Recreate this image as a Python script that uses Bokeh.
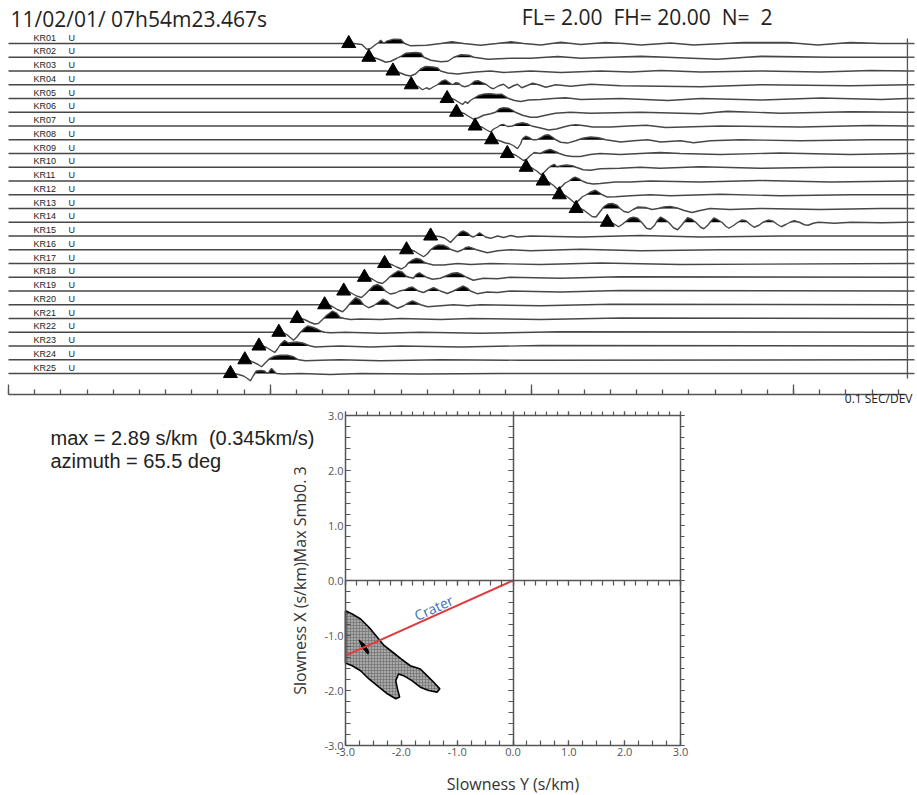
import numpy as np
from bokeh.plotting import figure
from bokeh.models import (Range1d, LinearAxis, SingleIntervalTicker,
                          PrintfTickFormatter, CustomJSTickFormatter, Label)
from bokeh.core.properties import value
from bokeh.embed import file_html
from bokeh.resources import INLINE

# ---------------------------------------------------------------- data
STATIONS = ["KR01", "KR02", "KR03", "KR04", "KR05", "KR06", "KR07", "KR08",
            "KR09", "KR10", "KR11", "KR12", "KR13", "KR14", "KR15", "KR16",
            "KR17", "KR18", "KR19", "KR20", "KR21", "KR22", "KR23", "KR24",
            "KR25"]
COMPONENT = "U"
# first-arrival picks (s after record start)
PICK_S = [1.300, 1.377, 1.469, 1.539, 1.676, 1.712, 1.783, 1.846, 1.906,
          1.978, 2.043, 2.105, 2.169, 2.288, 1.613, 1.521, 1.437, 1.360,
          1.281, 1.208, 1.103, 1.033, 0.957, 0.903, 0.848]
RECORD_END_S = 3.435
AXIS_END_S = 3.428
TIME_DIV_S = 0.1

# waveform key points: (ms after pick, amplitude in counts; + = up)
KR01_WAVE = [(19, 0), (50, -1), (69, -5.7), (84, -5), (103, -1), (115, 1), (122, 3.3), (134, 0.3),
             (145, 2.3), (172, 4.3), (199, 4), (214, 0), (237, -2.3), (298, -1.7), (352, 0),
             (394, 1.7), (439, 0), (504, -1.7), (565, 0), (619, 1.7), (669, 0), (734, -1.5),
             (810, 1.3), (886, -1), (982, 1), (1051, 0), (1116, -1.5), (1230, 0.5), (1318, -1.5),
             (1509, 1), (1677, 1), (1792, -1.5), (1918, 1), (2033, 0)]
KR02_WAVE = [(15, 0), (38, -2), (65, -5), (84, -4), (107, -1), (122, 1), (141, 4), (180, 4.7),
             (199, 4), (210, 0), (237, -3), (275, -4.5), (302, -4), (325, 0), (352, 2.5), (382, 2),
             (401, 0), (455, -2), (543, -1), (619, -1), (722, 0.7), (810, -1), (1039, 1),
             (1333, -2), (1498, 1), (1765, 0)]
KR03_WAVE = [(15, 0), (29, -2), (48, -4), (67, -5), (86, -3), (98, 0), (106, 2), (125, 4.5),
             (152, 4), (171, 3), (182, 0), (209, -2), (247, -3), (278, -2), (316, -1), (373, 0),
             (424, -1.5), (526, 0), (642, -1.5), (794, 0), (909, -1), (1023, 0.5), (1176, -1),
             (1405, 0), (1634, -1), (1826, 0.5)]
KR04_WAVE = [(13, 0), (28, -2), (43, -5), (58, -3), (70, -4.5), (85, -2), (100, 0), (116, 3.5),
             (131, 4.8), (146, 2), (158, 0), (169, 2), (181, 1.5), (192, -1), (204, -2), (219, -1),
             (230, 1), (242, 3.5), (257, 4), (272, 2), (288, 0), (303, -3), (314, -4), (334, -1),
             (353, 0.5), (372, -3.5), (391, -1), (406, 0.5), (422, -3), (441, -1), (464, 1.5),
             (487, 0), (514, -2.5), (552, 0), (610, -1.5), (686, 0.5), (800, -1), (1106, -2),
             (1336, 0), (1679, -1)]
KR05_WAVE = [(13, 0), (28, -1), (43, -3.5), (59, -6), (70, -3), (78, -5), (89, -2), (104, 0.5),
             (120, 3), (143, 4.5), (166, 4.7), (189, 4), (208, 4.3), (223, 2), (235, 0), (258, -2),
             (281, -3), (312, -1.5), (358, -1), (404, 0), (453, 0.7), (511, -1), (664, 0),
             (844, -2), (970, 0), (1200, -1.5), (1430, 0.5), (1660, -1)]
KR06_WAVE = [(15, 0), (31, -1.5), (46, -4), (65, -7), (84, -5.5), (103, -3), (130, -1.5), (149, 0),
             (164, 3.5), (180, 4.5), (199, 4), (214, 2), (225, 0), (252, -3), (283, -5), (306, -5),
             (340, -3), (378, -1), (436, 0), (512, -1), (703, 0), (932, -1.5), (1035, 1),
             (1238, -1), (1505, 0.5)]
KR07_WAVE = [(13, 0), (29, -1.5), (44, -4), (59, -6), (71, -3), (86, -1), (97, 1), (109, 1.5),
             (124, -0.5), (143, 0), (159, 2), (181, 3.2), (201, 2), (216, 0), (250, -2), (281, -4),
             (311, -3), (338, -1), (361, 0.5), (384, 1.2), (411, 0.5), (449, -1), (518, -1),
             (587, 0), (655, 0.8), (728, -1.5), (938, 0), (1244, -1), (1511, 0.5)]
KR08_WAVE = [(15, 0), (31, -1), (50, -3), (69, -4), (84, -6), (99, -9), (111, -4), (118, 1),
             (130, 3.5), (145, 2), (157, 0), (172, 0), (187, 2), (203, 4.5), (218, 5), (233, 2.5),
             (245, 0), (264, -2.5), (290, -3.3), (321, -1), (348, 1.5), (378, 2.7), (409, 2),
             (436, 0), (493, -2.3), (543, -1), (596, 0), (646, -2.3), (722, -1), (772, -3),
             (837, -1), (951, 0), (1181, -1), (1448, 0)]
KR09_WAVE = [(15, 0), (31, -1.5), (46, -4), (61, -7), (73, -6), (88, -2), (103, 1), (126, 0),
             (149, 3), (164, 4.2), (183, 2), (199, 0), (222, -2), (248, -3), (279, -3), (317, -1),
             (355, 0), (432, -1), (508, 0), (585, 1), (661, 0), (814, -1), (1043, 0.5), (1311, -1)]
KR10_WAVE = [(15, 0), (27, -1.5), (42, -4), (57, -7.5), (69, -5), (84, -1), (96, 1.5), (107, 3),
             (118, 0.5), (134, 1.5), (153, 2.3), (176, 1.5), (191, 0), (218, -2.5), (245, -3),
             (283, -1.5), (359, -1), (436, 0), (512, -1), (665, 0.5), (894, -1), (1162, 0)]
KR11_WAVE = [(15, 0), (27, -2), (42, -5), (53, -8), (69, -6), (84, -2), (99, 0), (111, 2.5),
             (122, 3.8), (138, 2), (149, 0), (168, -2), (191, -3), (218, -2.5), (275, -1),
             (332, -1), (409, 0), (600, -1), (829, 0.5), (1097, -1)]
KR12_WAVE = [(15, 0), (27, -1.5), (42, -4.5), (57, -8), (73, -6), (88, -2), (103, 0), (118, 2.5),
             (138, 4.5), (153, 2), (164, 0), (183, -2.3), (214, -2), (271, -1), (348, 0),
             (424, -1), (615, 0.5), (844, -1), (1112, 0)]
KR13_WAVE = [(15, 0), (31, -2), (46, -5), (61, -8), (76, -8.5), (92, -3), (107, 2), (122, 4.5),
             (138, 5), (157, 3), (168, 0), (183, -3), (199, -4), (218, -1), (237, 1.5), (264, 1),
             (290, -1), (313, 0), (336, 1.5), (359, 2), (386, 0.5), (413, -2), (443, -4),
             (474, -2), (512, 0), (588, -1), (703, 0), (932, -1), (1162, 0)]
KR14_WAVE = [(15, 0), (28, -2), (43, -4.5), (58, -2), (74, 1.5), (85, 4), (100, 5.2), (116, 4),
             (131, 0), (150, -6), (165, -7), (181, -3), (192, 2), (204, 5.2), (219, 3), (234, 0),
             (253, -5.5), (269, -7.5), (284, -3), (296, 1), (307, 4.5), (323, 3), (338, 0),
             (357, -5), (369, -6.5), (384, -3), (396, 1), (407, 4.3), (422, 2.5), (438, 0),
             (453, -4), (465, -6), (484, -3), (499, 0), (515, 2.3), (530, 1.5), (545, -2),
             (561, -5), (580, -3), (595, 0), (615, 2.2), (634, 1), (649, -2), (665, -4.5),
             (684, -2), (699, 0), (714, 1.5), (734, 0), (753, -2.5), (768, -3), (787, -1),
             (807, 0), (868, -1), (933, 0), (1049, -0.5)]
KR15_WAVE = [(15, 0), (34, -0.5), (53, -2), (69, -5), (76, -6.5), (88, -3), (103, 1), (115, 4),
             (126, 5), (141, 3), (153, 0), (164, -1), (176, 1), (187, 3.3), (199, 1), (210, -1),
             (229, -2.3), (256, 0), (279, -1.5), (306, 0.5), (332, -1), (382, 0), (573, -1),
             (802, 0.5), (1032, -1), (1337, 0)]
KR16_WAVE = [(15, 0), (31, -1.5), (46, -4), (65, -7), (80, -4), (92, 0), (107, 3), (122, 4.8),
             (141, 4.5), (160, 2), (172, 0), (195, -2), (214, 0), (225, 2), (237, 2.8), (252, 1.5),
             (267, 0), (309, -3), (348, -1), (397, 0), (474, -1), (665, 0.5), (894, -1), (1200, 0)]
KR17_WAVE = [(15, 0), (31, -1.5), (46, -3.5), (65, -5.5), (80, -3), (92, 1), (107, 3.5), (122, 5),
             (138, 4), (153, 1), (164, 0), (187, -1.5), (225, -1.5), (279, 0), (329, -1),
             (405, 0), (596, -1), (825, 0.5), (1131, -1)]
KR18_WAVE = [(15, 0), (31, -2), (50, -5), (69, -6.3), (84, -3), (99, 1), (115, 4), (130, 6.3),
             (145, 5), (160, 1), (172, 0), (187, -1), (199, 3), (210, 4.5), (225, 2), (237, 0),
             (260, -2), (290, -1), (313, 1.5), (336, 4), (355, 4.5), (374, 2.5), (390, 0),
             (416, -3), (455, -1), (508, -1.5), (558, 0), (749, -1), (978, 0.5)]
KR19_WAVE = [(15, 0), (29, -2), (49, -5), (68, -6.5), (83, -3), (98, 1), (113, 5), (129, 6.5),
             (144, 4.5), (159, 0), (178, -3), (198, -2), (213, 0), (232, 1), (247, 3), (262, 4),
             (274, 2), (285, 0), (305, -1.5), (324, 1), (343, 3.3), (358, 1.5), (369, 0),
             (396, -2.5), (419, 0), (438, 2.5), (457, 5), (472, 3), (484, 0), (510, -2.7),
             (548, -1), (587, -1.5), (637, 0), (828, -1), (1057, 0.5)]
KR20_WAVE = [(15, 0), (31, -2), (50, -5), (69, -7), (84, -3), (99, 2), (118, 7), (134, 5),
             (149, 0), (168, -3), (187, -1), (203, 2), (222, 5.5), (241, 3), (252, 0), (279, -3.5),
             (302, -1), (317, 1.5), (336, 3.8), (355, 1.5), (367, 0), (394, -2), (443, -1),
             (493, 0), (546, -1), (596, 0), (825, -1), (1093, 0.5)]
KR21_WAVE = [(13, 0), (28, -1), (47, -3.5), (66, -5.5), (81, -5), (97, -1), (112, 3), (135, 7.5),
             (150, 5.5), (165, 1), (181, 0), (204, -1), (242, -0.5), (318, -1), (395, 0),
             (548, -1), (663, 0), (930, -1), (1236, 0.5)]
KR22_WAVE = [(14, 0), (29, -2), (45, -5.5), (56, -8), (68, -5), (83, 0), (98, 4), (110, 6.3),
             (129, 5), (148, 3), (163, 1), (175, 0), (198, -0.5), (255, 0), (389, -1), (541, 0),
             (770, -1), (1075, 0.5)]
KR23_WAVE = [(14, 0), (29, -1.5), (45, -4), (60, -6.5), (71, -3), (83, 2), (98, 5.5), (113, 3),
             (125, 3.5), (144, 4), (167, 3), (186, 1), (197, 0), (216, -1), (255, -0.5), (312, 0),
             (426, -1), (541, 0), (770, -1), (1075, 0.5)]
KR24_WAVE = [(14, 0), (29, -2), (49, -4.5), (64, -7), (79, -3), (94, 1), (113, 3.5), (136, 4.5),
             (163, 4.5), (186, 3), (205, 0), (232, -1), (289, -0.5), (365, 0), (518, -1),
             (747, 0), (1052, -0.5)]
KR25_WAVE = [(15, 0), (31, -1), (50, -2.5), (65, -5), (76, -7.3), (88, -2), (99, 2.5), (115, 3),
             (130, 2.5), (141, 0), (149, 2), (157, 5), (168, 2), (176, 0), (202, -0.5), (267, 0),
             (382, -1), (497, 0), (726, -0.5), (1032, 0)]
WAVES = [KR01_WAVE, KR02_WAVE, KR03_WAVE, KR04_WAVE, KR05_WAVE, KR06_WAVE, KR07_WAVE,
         KR08_WAVE, KR09_WAVE, KR10_WAVE, KR11_WAVE, KR12_WAVE, KR13_WAVE, KR14_WAVE,
         KR15_WAVE, KR16_WAVE, KR17_WAVE, KR18_WAVE, KR19_WAVE, KR20_WAVE, KR21_WAVE,
         KR22_WAVE, KR23_WAVE, KR24_WAVE, KR25_WAVE]

HEADER_TIME = "11/02/01/ 07h54m23.467s"
FL, FH, NPOLE = 2.00, 20.00, 2

# slowness analysis
MAX_SLOWNESS = 2.89      # s/km
MAX_VELOCITY = 0.345     # km/s
AZIMUTH_DEG = 65.5
SLOW_LIM = 3.0
# high-semblance region (slowness Y, slowness X) in s/km
REGION_Y = [-3.00, -2.88, -2.73, -2.58, -2.43, -2.31, -2.16, -2.01, -1.84, -1.66, -1.54,
            -1.42, -1.31, -1.36, -1.51, -1.66, -1.81, -1.96, -2.05, -2.10, -2.07, -2.03,
            -2.10, -2.25, -2.40, -2.58, -2.73, -2.88, -2.98, -3.00]
REGION_X = [-0.55, -0.61, -0.70, -0.85, -1.03, -1.18, -1.30, -1.42, -1.55, -1.61, -1.73,
            -1.85, -1.97, -2.03, -2.00, -1.94, -1.82, -1.73, -1.70, -1.82, -1.97, -2.12,
            -2.15, -2.06, -1.94, -1.79, -1.64, -1.55, -1.51, -1.50]
PEAK_Y = [-2.76, -2.66, -2.58, -2.60, -2.70]
PEAK_X = [-1.08, -1.16, -1.30, -1.34, -1.22]

# ---------------------------------------------------------------- page geometry (px)
W = 917
H = 795
TOP_H = 407
BOT_H = H - TOP_H
T0_PX = 8                 # x of t = 0
PX_PER_S = 261.7          # horizontal scale of the record section
FIRST_TRACE_PX = 43       # y of the first trace
TRACE_PX = 13.75          # vertical spacing of the traces
AXIS_PX = 394             # y of the time axis
BOX_L, BOX_R, BOX_T, BOX_B = 345, 680, 415, 745   # slowness box on the page
GAIN = 1.0 / TRACE_PX     # one count = one pixel
LINE_C = "#474747"
AXIS_C = "#555555"
TEXT_C = "#222222"
FONT = "Open Sans"
NB = "\u00a0"             # non-collapsing space
NO_LABELS = CustomJSTickFormatter(code="return ''")


def bare_figure(height, xr, yr):
    p = figure(width=W, height=height, x_range=xr, y_range=yr, output_backend="svg",
               toolbar_location=None, x_axis_location=None, y_axis_location=None,
               min_border=0, min_border_left=0, min_border_right=0,
               min_border_top=0, min_border_bottom=0)
    p.title.visible = False
    p.grid.visible = False
    p.outline_line_color = None
    return p


def style_axis(a, tick_in, tick_out, labels=True):
    a.axis_line_color = AXIS_C
    a.axis_line_width = 1.5
    a.major_tick_line_color = AXIS_C
    a.minor_tick_line_color = AXIS_C
    a.major_tick_line_width = 1.2
    a.minor_tick_line_width = 1.2
    a.major_tick_in, a.major_tick_out = tick_in, tick_out
    a.minor_tick_in, a.minor_tick_out = tick_in, tick_out
    if labels:
        a.major_label_text_font = FONT
        a.major_label_text_font_size = "11px"
        a.major_label_text_color = "#555555"
        a.major_label_standoff = 2
        a.axis_label_text_font = FONT
        a.axis_label_text_font_size = "16px"
        a.axis_label_text_font_style = "normal"
        a.axis_label_text_color = "#333333"
    else:
        a.formatter = NO_LABELS
        a.major_label_standoff = 0


def page_label(p, fig_h, x, y, text, size, font=FONT, align="left"):
    # "screen" units: px from the frame's lower-left corner (frame == canvas here)
    p.add_layout(Label(x=x, y=fig_h - y, x_units="screen", y_units="screen", text=text,
                       text_font=font, text_font_size=size, text_align=align,
                       text_baseline="middle", text_color=TEXT_C))


# ---------------------------------------------------------------- record section
n = len(STATIONS)
x0 = -T0_PX / PX_PER_S
x1 = (W - T0_PX) / PX_PER_S
y_hi = -1 + FIRST_TRACE_PX / TRACE_PX
y_lo = y_hi - TOP_H / TRACE_PX
top = bare_figure(TOP_H, Range1d(x0, x1), Range1d(y_lo, y_hi))

bases = [-(i + 1) for i in range(n)]
for base, pick, wave in zip(bases, PICK_S, WAVES):
    ts = [0.0, pick] + [pick + ms / 1000.0 for ms, a in wave] + [RECORD_END_S]
    amps = [0.0, 0.0] + [a for ms, a in wave] + [0.0]
    ft, fa = [], []
    for k in range(len(ts)):
        if k > 0 and amps[k - 1] * amps[k] < 0:
            tc = ts[k - 1] + (ts[k] - ts[k - 1]) * amps[k - 1] / (amps[k - 1] - amps[k])
            ft.append(tc)
            fa.append(0.0)
        ft.append(ts[k])
        fa.append(max(amps[k], 0.0))
    top.varea(x=ft, y1=[base] * len(ft), y2=[base + a * GAIN for a in fa],
              fill_color="black")
    top.line(ts, [base + a * GAIN for a in amps], line_color=LINE_C, line_width=1.4)

top.scatter(PICK_S, bases, marker="triangle", size=14, color="black")

top.text(x=[0] * n, y=bases, text=STATIONS, x_offset=25, y_offset=-6,
         text_font=value("Liberation Sans"), text_font_size="9px",
         text_baseline="middle", text_color=TEXT_C)
top.text(x=[0] * n, y=bases, text=[COMPONENT] * n, x_offset=60, y_offset=-6,
         text_font=value("Liberation Sans"), text_font_size="9px",
         text_baseline="middle", text_color=TEXT_C)

# trace end bracket
top.segment(x0=[RECORD_END_S], y0=[bases[0] + 0.36], x1=[RECORD_END_S],
            y1=[bases[-1] - 0.36], line_color=AXIS_C, line_width=1.3)
top.ray(x=[RECORD_END_S] * n, y=bases, length=7, angle=0, length_units="screen",
        line_color=AXIS_C, line_width=1.5)

time_ax = LinearAxis(ticker=SingleIntervalTicker(interval=1.0,
                                                 num_minor_ticks=int(round(1 / TIME_DIV_S))),
                     fixed_location=y_hi - AXIS_PX / TRACE_PX, bounds=(0, AXIS_END_S))
style_axis(time_ax, 10, 0, labels=False)
time_ax.minor_tick_in = 5
time_ax.major_tick_line_width = 1.3
time_ax.minor_tick_line_width = 1.3
top.add_layout(time_ax, "below")

page_label(top, TOP_H, 10, 18, HEADER_TIME, "21px")
page_label(top, TOP_H, 772, 16,
           f"FL={NB}{FL:.2f}{NB}{NB}FH={NB}{FH:.2f}{NB}{NB}N={NB}{NB}{NPOLE}",
           "21px", align="right")
page_label(top, TOP_H, 912, 398, f"{TIME_DIV_S} SEC/DEV", "12px", align="right")

# ---------------------------------------------------------------- slowness map
px_x = (BOX_R - BOX_L) / (2 * SLOW_LIM)
px_y = (BOX_B - BOX_T) / (2 * SLOW_LIM)
bx0 = -SLOW_LIM - BOX_L / px_x
bx1 = SLOW_LIM + (W - BOX_R) / px_x
by1 = SLOW_LIM + (BOX_T - TOP_H) / px_y
by0 = -SLOW_LIM - (H - BOX_B) / px_y
bot = bare_figure(BOT_H, Range1d(bx0, bx1), Range1d(by0, by1))

lim = (-SLOW_LIM, SLOW_LIM)
left_ax = LinearAxis(ticker=SingleIntervalTicker(interval=1.0, num_minor_ticks=5),
                     formatter=PrintfTickFormatter(format="%.1f"),
                     axis_label="Slowness X (s/km)Max Smb0. 3",
                     fixed_location=-SLOW_LIM, bounds=lim)
style_axis(left_ax, 5, 0)
left_ax.axis_label_standoff = 10
bot.add_layout(left_ax, "left")

below_ax = LinearAxis(ticker=SingleIntervalTicker(interval=1.0, num_minor_ticks=4),
                      formatter=PrintfTickFormatter(format="%.1f"),
                      axis_label="Slowness Y (s/km)",
                      fixed_location=-SLOW_LIM, bounds=lim)
style_axis(below_ax, 5, 0)
below_ax.axis_label_standoff = 14
bot.add_layout(below_ax, "below")

for loc in ("above", "right"):
    a = LinearAxis(ticker=SingleIntervalTicker(interval=1.0, num_minor_ticks=5),
                   fixed_location=SLOW_LIM, bounds=lim)
    style_axis(a, 0, 4, labels=False)
    bot.add_layout(a, loc)

# centre cross with ticks
for loc in ("below", "left"):
    a = LinearAxis(ticker=SingleIntervalTicker(interval=1.0, num_minor_ticks=5),
                   fixed_location=0, bounds=lim)
    style_axis(a, 0, 5, labels=False)
    bot.add_layout(a, loc)

bot.patch(REGION_Y, REGION_X, fill_color="#a8a8a8", line_color="black", line_width=1.6,
          hatch_pattern="cross", hatch_color="#6a6a6a", hatch_scale=3, hatch_weight=0.6)
bot.patch(PEAK_Y, PEAK_X, fill_color="black", line_color="black")

slope = np.tan(np.radians(90 - AZIMUTH_DEG))
bot.line([0, -SLOW_LIM], [0, -SLOW_LIM * slope], line_color="#e03a3e", line_width=2)
cy = -1.35
bot.text(x=[cy], y=[cy * slope], text=["Crater"], angle=np.arctan(slope),
         text_font=value(FONT), text_font_size="14px", text_color="#3b6db4",
         text_align="center", text_baseline="bottom", y_offset=2)

page_label(bot, H, 50, 437,
           f"max = {MAX_SLOWNESS:.2f} s/km{NB}{NB}({MAX_VELOCITY:.3f}km/s)",
           "20px", font="Liberation Sans")
page_label(bot, H, 50, 460, f"azimuth = {AZIMUTH_DEG:.1f} deg", "20px",
           font="Liberation Sans")

open("out.html", "w").write(file_html((top, bot), INLINE))
